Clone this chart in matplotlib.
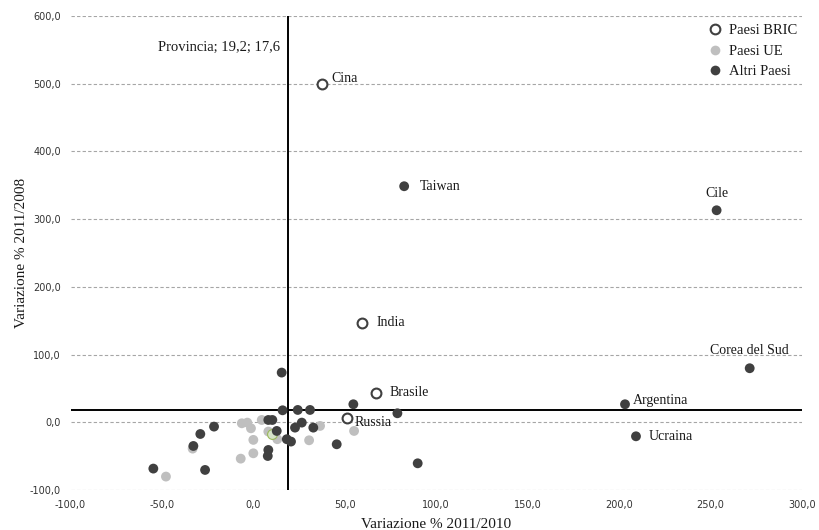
"""
Scatter: Variazione % 2011/2010 vs 2011/2008, by country group.
"""

import matplotlib
matplotlib.use("Agg")
import matplotlib.pyplot as plt
import matplotlib.ticker as mticker
from matplotlib.lines import Line2D

# ---------------------------------------------------------------------------
# Data
# ---------------------------------------------------------------------------
bric_names = ["Cina", "India", "Brasile", "Russia"]
bric_x = [37.6, 59.6, 67.1, 51.4]
bric_y = [499.0, 147.0, 43.9, 6.9]

altri_names = ["Taiwan", "Cile", "Corea del Sud", "Argentina", "Ucraina"]
altri_lx = [82.5, 253.4, 271.5, 203.3, 209.3]
altri_ly = [348.6, 313.1, 79.8, 26.6, -20.7]

altri_x = [15.5, 16.0, 24.3, 31.0, 54.7, 78.8, 8.2, 10.4, -21.5, -29.0,
           -32.8, 12.8, 22.8, 26.5, 32.8, 18.3, 20.6, 45.6, 8.2, 7.9,
           -54.7, -26.4, 89.9]
altri_y = [73.4, 17.7, 18.2, 18.2, 26.6, 13.3, 3.4, 3.4, -6.4, -17.3,
           -35.0, -12.8, -7.9, -0.5, -7.9, -25.0, -28.5, -32.5, -40.9, -49.8,
           -68.4, -70.4, -60.6]

ue_x = [-6.3, -3.3, -1.3, 4.6, 8.2, 13.1, 0.0, 0.0, -6.9, -33.2,
        -47.8, 30.5, 36.5, 55.1]
ue_y = [-1.5, -0.5, -8.9, 3.4, -13.7, -25.0, -26.0, -45.8, -53.7, -38.9,
        -80.2, -26.6, -5.4, -12.8]

other_x = [10.0]
other_y = [-17.7]

prov_x, prov_y = 19.2, 17.6

x_ticks = [-100, -50, 0, 50, 100, 150, 200, 250, 300]
y_ticks = [-100, 0, 100, 200, 300, 400, 500, 600]

# ---------------------------------------------------------------------------
# Style
# ---------------------------------------------------------------------------
SERIF = "Liberation Serif"
DARK = "#404040"
LIGHT = "#bfbfbf"
GRID = "#a6a6a6"
TEXT = "#1a1a1a"

fig = plt.figure(figsize=(8.19, 5.30), dpi=100, facecolor="white")
ax = fig.add_axes([0.0861, 0.0755, 0.8929, 0.8943])

for s in ax.spines.values():
    s.set_visible(False)
ax.set_xlim(-100, 300)
ax.set_ylim(-100, 600)
ax.set_xticks(x_ticks)
ax.set_yticks(y_ticks)
fmt = mticker.FuncFormatter(lambda v, p: f"{v:.1f}".replace(".", ","))
ax.xaxis.set_major_formatter(fmt)
ax.yaxis.set_major_formatter(fmt)
ax.tick_params(axis="both", length=0, labelsize=7, colors="#333333")
ax.tick_params(axis="y", pad=7)
ax.tick_params(axis="x", pad=7)
for lab in ax.get_xticklabels() + ax.get_yticklabels():
    lab.set_family("DejaVu Sans")

ax.yaxis.grid(True, color=GRID, lw=0.8, ls=(0, (3, 2)), zorder=0)
ax.set_axisbelow(True)

# Reference lines through the province
ax.axvline(prov_x, color="black", lw=1.4, zorder=2)
ax.axhline(prov_y, color="black", lw=1.4, zorder=2)
ax.annotate("Provincia; 19,2; 17,6", xy=(prov_x, 553), xytext=(-6, 0),
            textcoords="offset points", ha="right", va="center",
            fontsize=10.5, family=SERIF, color=TEXT)

# Points
ms = 50
ax.scatter(ue_x, ue_y, s=ms, color=LIGHT, edgecolors="none", zorder=3)
ax.scatter(other_x, other_y, s=ms, color="#d6e3c8", edgecolors="#9bbb59",
           linewidths=0.8, zorder=3)
ax.scatter(altri_x, altri_y, s=ms, color=DARK, edgecolors="none", zorder=4)
ax.scatter(altri_lx, altri_ly, s=ms, color=DARK, edgecolors="none", zorder=4)
ax.scatter(bric_x, bric_y, s=ms, facecolors="white", edgecolors=DARK,
           linewidths=1.5, zorder=5)

# Point labels (offsets in points)
offsets = {
    "Cina": (7, 4, "left"),
    "India": (10, 0, "left"),
    "Brasile": (10, 0, "left"),
    "Russia": (5, -3.5, "left"),
    "Taiwan": (11, 0, "left"),
    "Cile": (0, 12, "center"),
    "Corea del Sud": (0, 13, "center"),
    "Argentina": (6, 2.5, "left"),
    "Ucraina": (9, 0, "left"),
}
for name, x, y in list(zip(bric_names, bric_x, bric_y)) + \
        list(zip(altri_names, altri_lx, altri_ly)):
    dx, dy, ha = offsets[name]
    ax.annotate(name, xy=(x, y), xytext=(dx, dy), textcoords="offset points",
                ha=ha, va="center", fontsize=10, family=SERIF, color=TEXT,
                zorder=6)

ax.set_xlabel("Variazione % 2011/2010", fontsize=11, family=SERIF,
              color=TEXT, labelpad=6)
ax.set_ylabel("Variazione % 2011/2008", fontsize=11, family=SERIF,
              color=TEXT, labelpad=1)

handles = [
    Line2D([], [], marker="o", ls="None", ms=7, mfc="white", mec=DARK,
           mew=1.5, label="Paesi BRIC"),
    Line2D([], [], marker="o", ls="None", ms=7, mfc=LIGHT, mec="none",
           label="Paesi UE"),
    Line2D([], [], marker="o", ls="None", ms=7, mfc=DARK, mec="none",
           label="Altri Paesi"),
]
leg = ax.legend(handles=handles, loc="upper left", bbox_to_anchor=(0.862, 0.995),
                frameon=False, prop={"family": SERIF, "size": 10.5},
                handletextpad=0.3, labelspacing=0.5, borderaxespad=0,
                handlelength=1.2)
for t in leg.get_texts():
    t.set_color(TEXT)

fig.savefig("out.png", dpi=100, facecolor="white")
